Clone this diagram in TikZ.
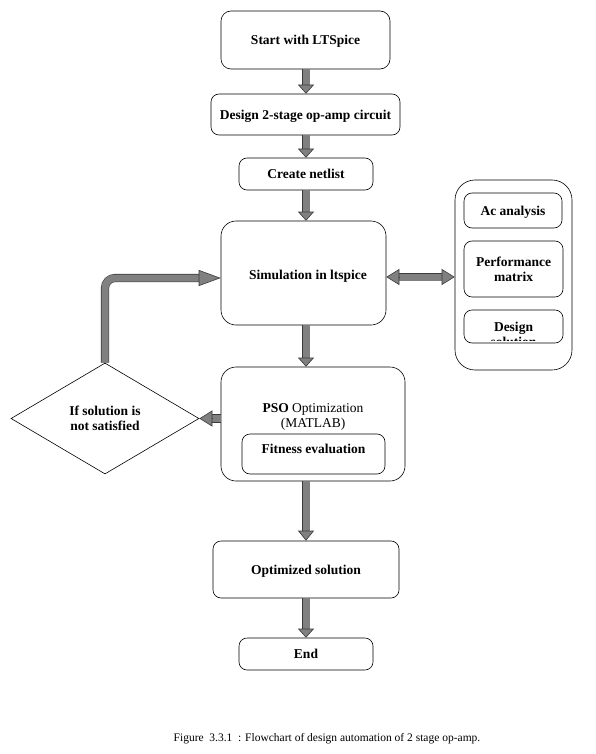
\documentclass[tikz,border=0pt]{standalone}
\usepackage{fontspec}
\setmainfont{Liberation Serif}
\usetikzlibrary{shapes.geometric,arrows.meta,calc}
\definecolor{arrfill}{HTML}{808080}
\definecolor{arredge}{HTML}{3A3A3A}
\tikzset{
  box/.style={draw, line width=0.6pt, rounded corners=8pt, align=center,
    font=\bfseries\fontsize{13.5}{15}\selectfont, inner sep=0pt, text depth=0pt},
  shaft/.style={draw=arredge, line width=0.6pt, double=arrfill, double distance=7pt},
  fathead/.style={draw=arredge, line width=0.6pt, -{Triangle[length=#1, width=16pt, fill=arrfill]}},
  fathead/.default=9pt,
}
\newcommand\fatarr[3][9pt]{%
  \draw[shaft, shorten >=#1-1pt] (#2) -- (#3);
  \draw[fathead=#1] ($(#3)!#1!(#2)$) -- (#3);}
\begin{document}
\begin{tikzpicture}[x=1pt,y=-1pt]
\useasboundingbox (0,0) rectangle (596,754);
\node[box, rounded corners=10pt, minimum width=169pt, minimum height=58pt] (start) at (305.5,40) {Start with LTSpice};
\node[box, minimum width=189pt, minimum height=41pt] (design) at (305.5,114.5) {Design 2-stage op-amp circuit};
\node[box, minimum width=134pt, minimum height=32pt] (netlist) at (306,174) {Create netlist};
\node[box, rounded corners=15pt, minimum width=165pt, minimum height=104pt] (sim) at (303.5,273) {};
\node[font=\bfseries\fontsize{13.5}{15}\selectfont, inner sep=0pt, text depth=0pt] (simtext) at (308,275) {Simulation in ltspice};
\node[box, rounded corners=20pt, minimum width=117pt, minimum height=190pt] (right) at (513.5,275) {};
\node[box, minimum width=98pt, minimum height=35pt] (ac) at (513,210.5) {Ac analysis};
\node[box, minimum width=99pt, minimum height=56pt] (perf) at (513.5,269) {Performance\\matrix};
\node[box, minimum width=99pt, minimum height=33pt] (dsol) at (513.5,326.5) {};
\begin{scope}
  \clip ($(dsol.north west)+(1,1)$) rectangle ($(dsol.south east)+(-1,-2.5)$);
  \node[font=\bfseries\fontsize{13.5}{15}\selectfont, align=center, inner sep=0pt] (dsoltext) at (513.5,334) {Design\\solution};
\end{scope}
\node[box, rounded corners=15pt, minimum width=184pt, minimum height=114pt] (pso) at (313,424) {};
\node[align=center, font=\fontsize{13.5}{15}\selectfont, inner sep=0pt] (psotext) at (313,417) {\textbf{PSO} Optimization\\(MATLAB)};
\node[box, minimum width=143pt, minimum height=40pt] (fit) at (313.5,454) {};
\node[font=\bfseries\fontsize{13.5}{15}\selectfont, inner sep=0pt, text depth=0pt] (fittext) at (313.5,449) {Fitness evaluation};
\node[draw, diamond, line width=0.6pt, minimum width=188pt, minimum height=111pt, inner sep=0pt, align=center,
  font=\bfseries\fontsize{13.5}{15}\selectfont] (dia) at (105,418.5) {If solution is\\ not satisfied};
\node[box, minimum width=186pt, minimum height=57pt] (opt) at (306,569.5) {Optimized solution};
\node[box, minimum width=134pt, minimum height=32pt] (end) at (306,654) {End};
\node[font=\fontsize{11.5}{13}\selectfont, inner sep=0pt] (cap) at (327,739) {Figure\ \ 3.3.1\ \ : Flowchart of design automation of 2 stage op-amp.};
% arrows
\coordinate (a1s) at (start.south -| netlist.south);
\coordinate (a1e) at (design.north -| netlist.south);
\coordinate (a2s) at (design.south -| netlist.south);
\coordinate (a4s) at (sim.south -| netlist.south);
\coordinate (a4e) at (pso.north -| netlist.south);
\coordinate (a5s) at (pso.south -| opt.north);
\coordinate (a3e) at (sim.north -| netlist.south);
\fatarr{a1s}{a1e}
\fatarr{a2s}{netlist.north}
\fatarr{netlist.south}{a3e}
\fatarr{a4s}{a4e}
\fatarr[10pt]{a5s}{opt.north}
\fatarr{opt.south}{end.north}
% pso to diamond
\coordinate (pd) at (dia.east -| pso.west);
\fatarr[13pt]{pd}{dia.east}
% double arrow
\coordinate (dl) at ($(sim.east)+(0,4)$);
\coordinate (dr) at (dl -| right.west);
\draw[shaft, shorten >=12pt, shorten <=12pt] (dl) -- (dr);
\draw[fathead=13pt] ($(dr)!13pt!(dl)$) -- (dr);
\draw[fathead=13pt] ($(dl)!13pt!(dr)$) -- (dl);
% loop
\coordinate (le) at ($(sim.west)+(0,5)$);
\draw[shaft, rounded corners=10pt, shorten >=21pt] (dia.north) |- (le);
\draw[fathead=22pt] ($(le)+(-22,0)$) -- (le);
\end{tikzpicture}
\end{document}
